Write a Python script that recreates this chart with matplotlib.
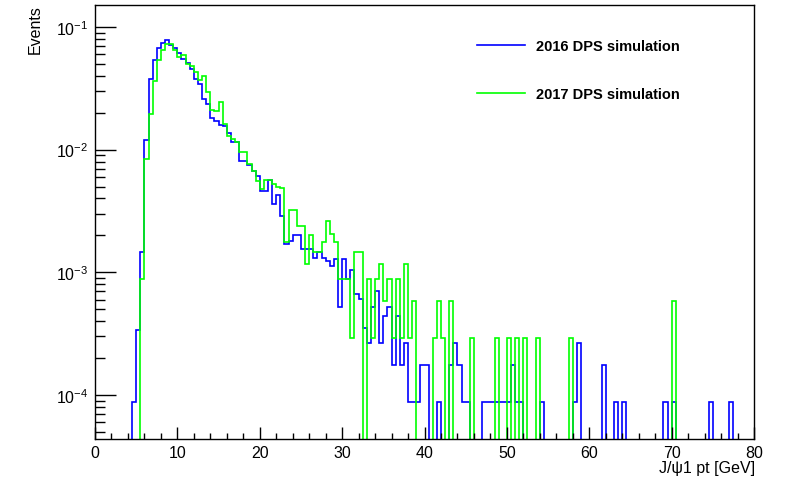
import matplotlib
matplotlib.use('Agg')
import matplotlib.pyplot as plt
import numpy as np
from matplotlib.ticker import MultipleLocator, LogLocator, NullFormatter

plt.rcParams['font.family'] = ['Liberation Sans', 'DejaVu Sans']
plt.rcParams['mathtext.fontset'] = 'custom'
plt.rcParams['mathtext.rm'] = 'Liberation Sans'

# 160 bins of 0.5 GeV between 0 and 80 GeV
x_lo, x_hi, n_bins = 0, 80, 160

# bin contents (normalised)
dps_2016 = [
    0, 0, 0, 0, 0, 0, 0, 0, 0, 8.8e-5,
    3.4e-4, 1.46e-3, 1.2e-2, 3.8e-2, 5.4e-2, 6.8e-2, 7.4e-2, 7.9e-2, 7.1e-2, 6.8e-2,
    6.1e-2, 5.5e-2, 5.1e-2, 4.55e-2, 3.8e-2, 3.45e-2, 2.6e-2, 2.35e-2, 1.8e-2, 1.7e-2,
    1.6e-2, 1.55e-2, 1.36e-2, 1.15e-2, 1.15e-2, 8.1e-3, 8.1e-3, 7.5e-3, 6.7e-3, 6.1e-3,
    4.6e-3, 4.6e-3, 5.7e-3, 3.6e-3, 4.3e-3, 2.85e-3, 1.7e-3, 1.8e-3, 2.0e-3, 2.0e-3,
    1.55e-3, 1.55e-3, 1.55e-3, 1.3e-3, 1.45e-3, 1.3e-3, 1.24e-3, 1.13e-3, 1.29e-3, 5.2e-4,
    1.29e-3, 8.8e-4, 1.05e-3, 6.6e-4, 6.05e-4, 3.5e-4, 2.63e-4, 5.26e-4, 7.0e-4, 2.63e-4,
    4.38e-4, 5.26e-4, 1.75e-4, 4.38e-4, 1.75e-4, 2.63e-4, 8.77e-5, 8.77e-5, 8.77e-5, 1.75e-4,
    1.75e-4, 0, 0, 8.77e-5, 0, 0, 1.75e-4, 2.63e-4, 1.75e-4, 8.77e-5,
    8.77e-5, 0, 0, 0, 8.77e-5, 8.77e-5, 8.77e-5, 8.77e-5, 8.77e-5, 8.77e-5,
    8.77e-5, 1.75e-4, 8.77e-5, 8.77e-5, 0, 0, 0, 0, 8.77e-5, 0,
    0, 0, 0, 0, 0, 0, 8.77e-5, 2.63e-4, 0, 0,
    0, 0, 0, 1.75e-4, 0, 0, 8.77e-5, 0, 8.77e-5, 0,
    0, 0, 0, 0, 0, 0, 0, 0, 8.77e-5, 0,
    8.77e-5, 0, 0, 0, 0, 0, 0, 0, 0, 8.77e-5,
    0, 0, 0, 0, 8.77e-5, 0, 0, 0, 0, 0,
]

dps_2017 = [
    0, 0, 0, 0, 0, 0, 0, 0, 0, 0,
    0, 8.8e-4, 8.4e-3, 1.95e-2, 3.65e-2, 5.4e-2, 6.5e-2, 7.2e-2, 7.3e-2, 6.5e-2,
    5.7e-2, 5.9e-2, 5.0e-2, 4.8e-2, 4.3e-2, 3.7e-2, 4.0e-2, 2.93e-2, 2.1e-2, 2.07e-2,
    2.46e-2, 1.62e-2, 1.3e-2, 1.22e-2, 1.15e-2, 9.5e-3, 9.5e-3, 7.6e-3, 6.7e-3, 5.6e-3,
    4.8e-3, 5.7e-3, 5.7e-3, 5.2e-3, 5.0e-3, 4.9e-3, 1.75e-3, 3.2e-3, 3.2e-3, 2.4e-3,
    2.4e-3, 1.17e-3, 2.03e-3, 1.46e-3, 1.46e-3, 1.75e-3, 2.63e-3, 2.04e-3, 1.75e-3, 8.76e-4,
    8.76e-4, 8.76e-4, 2.92e-4, 1.46e-3, 1.46e-3, 0, 8.76e-4, 2.92e-4, 8.76e-4, 1.17e-3,
    5.84e-4, 8.76e-4, 2.92e-4, 8.76e-4, 2.92e-4, 1.17e-3, 2.92e-4, 5.84e-4, 0, 0,
    0, 0, 2.92e-4, 5.84e-4, 2.92e-4, 0, 5.84e-4, 0, 0, 0,
    0, 2.92e-4, 0, 0, 0, 0, 0, 2.92e-4, 0, 0,
    2.92e-4, 0, 2.92e-4, 0, 2.92e-4, 0, 0, 2.92e-4, 0, 0,
    0, 0, 0, 0, 0, 2.92e-4, 0, 0, 0, 0,
    0, 0, 0, 0, 0, 0, 0, 0, 0, 0,
    0, 0, 0, 0, 0, 0, 0, 0, 0, 0,
    5.84e-4, 0, 0, 0, 0, 0, 0, 0, 0, 0,
    0, 0, 0, 0, 0, 0, 0, 0, 0, 0,
]

labels = ['2016 DPS simulation', '2017 DPS simulation']
colors = ['#0000ff', '#00ff00']

edges = np.linspace(x_lo, x_hi, n_bins + 1)
floor = 1e-9  # empty bins drop below the frame, like ROOT does

fig = plt.figure(figsize=(7.85, 4.85), dpi=100)
ax = fig.add_axes([95 / 785, 45 / 485, 659 / 785, 434 / 485])

for vals, c, lab in zip([dps_2016, dps_2017], colors, labels):
    v = np.array(vals, dtype=float)
    v = np.where(v > 0, v, floor)
    ax.stairs(v, edges, baseline=floor, color=c, lw=1.2, label=lab)

ax.set_yscale('log')
ax.set_xlim(x_lo, x_hi)
ax.set_ylim(4.375e-5, 0.151)

ax.xaxis.set_major_locator(MultipleLocator(10))
ax.xaxis.set_minor_locator(MultipleLocator(2))
ax.yaxis.set_major_locator(LogLocator(base=10))
ax.yaxis.set_minor_locator(LogLocator(base=10, subs=np.arange(2, 10)))
ax.yaxis.set_minor_formatter(NullFormatter())

ax.tick_params(axis='x', which='major', direction='in', length=9, width=1.0,
               labelsize=11.5, pad=4, top=False)
ax.tick_params(axis='x', which='minor', direction='in', length=4.5, width=1.0, top=False)
ax.tick_params(axis='y', which='major', direction='in', length=15, width=1.0,
               labelsize=11.5, pad=5, right=False)
ax.tick_params(axis='y', which='minor', direction='in', length=7.5, width=1.0, right=False)

for s in ax.spines.values():
    s.set_linewidth(1.0)

fig.text(755 / 785, 1 - 461 / 485, 'J/ψ1 pt [GeV]', ha='right', va='top', fontsize=11.5)
fig.text(35 / 785, 1 - 5 / 485, 'Events', rotation=90, ha='center', va='top', fontsize=11.5)

leg = ax.legend(loc='upper left', bbox_to_anchor=(369 / 659, 1 - 21 / 434), frameon=False,
                handlelength=3.3, labelspacing=2.3, handletextpad=0.75,
                prop={'weight': 'bold', 'size': 10.5})

fig.savefig('out.png', dpi=100)
